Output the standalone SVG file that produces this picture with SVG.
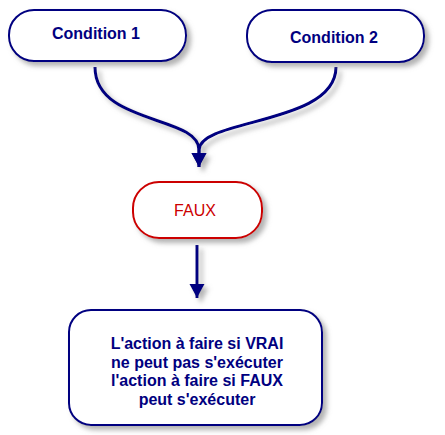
<svg xmlns="http://www.w3.org/2000/svg" width="445" height="435" viewBox="0 0 445 435">
<style>
.box{fill:#fff;stroke:#000080;stroke-width:2}
.red{stroke:#cc0000}
.t{font-family:"Liberation Sans",Arial,sans-serif;font-size:16px;font-weight:bold;fill:#000080;text-anchor:middle}
.tr{fill:#cc0000;font-weight:normal}
.c{fill:none;stroke:#000080;stroke-width:3}
</style>
<defs>
<filter id="sh" x="-20%" y="-20%" width="140%" height="140%">
<feDropShadow dx="4" dy="4" stdDeviation="2.5" flood-color="#808080" flood-opacity="0.6"/>
</filter>
<marker id="ah" markerUnits="userSpaceOnUse" markerWidth="16" markerHeight="16" refX="14" refY="7.5" orient="auto">
<path d="M0,0 L14,7.5 L0,15 z" fill="#000080"/>
</marker>
</defs>
<rect width="445" height="435" fill="#fff"/>
<g id="connectors" filter="url(#sh)">
<path class="c" d="M95,67 C95,125 199,115 199,150 L199,167" marker-end="url(#ah)"/>
<path class="c" d="M336,67 C336,125 200,118 199,150 L199,167" marker-end="url(#ah)"/>
<path class="c" d="M197,245 L197,298" marker-end="url(#ah)"/>
</g>
<g id="cond1">
<rect class="box" x="9" y="10" width="177" height="51" rx="25" filter="url(#sh)"/>
<text class="t" x="96" y="39">Condition 1</text>
</g>
<g id="cond2">
<rect class="box" x="247" y="10" width="177" height="52" rx="25" filter="url(#sh)"/>
<text class="t" x="334" y="43">Condition 2</text>
</g>
<g id="faux">
<rect class="box red" x="133" y="182" width="129" height="56" rx="26" filter="url(#sh)"/>
<text class="t tr" x="195" y="216">FAUX</text>
</g>
<g id="action">
<rect class="box" x="69" y="310" width="253" height="115" rx="22" filter="url(#sh)"/>
<text class="t" x="197" y="349">L'action à faire si VRAI</text>
<text class="t" x="197" y="367.5">ne peut pas s'exécuter</text>
<text class="t" x="197" y="386">l'action à faire si FAUX</text>
<text class="t" x="197" y="404.5">peut s'exécuter</text>
</g>
</svg>
